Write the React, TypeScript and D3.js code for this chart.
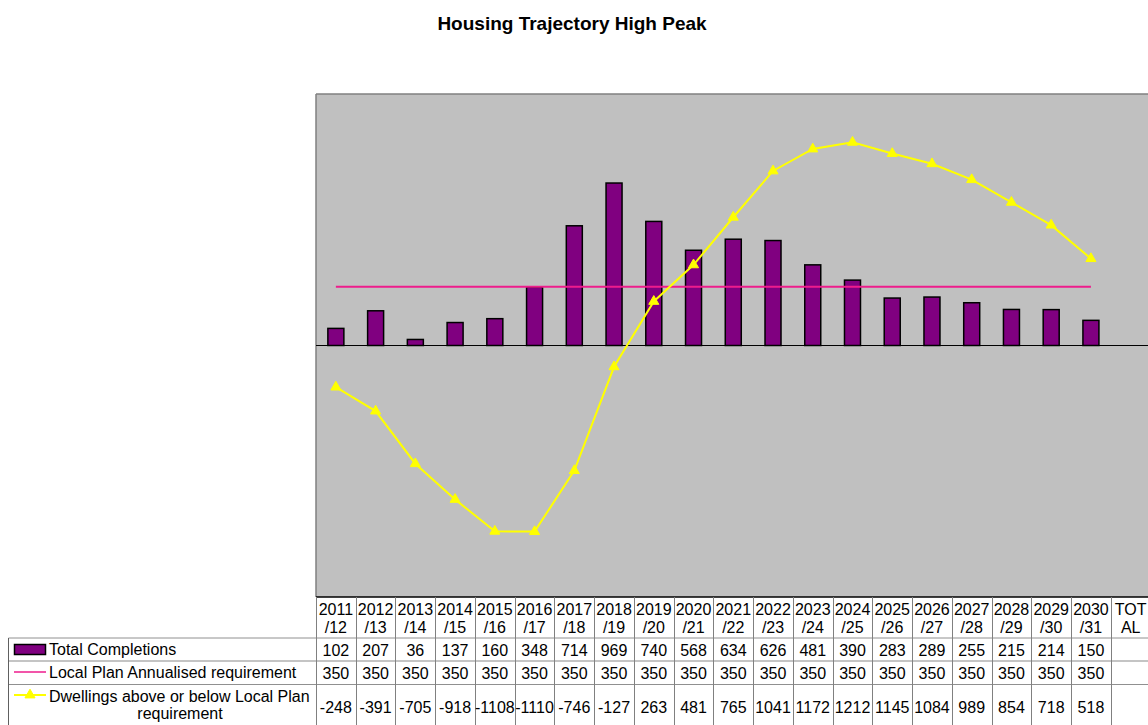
import React from "react";
import * as d3 from "d3";

const categories = [
  "2011/12", "2012/13", "2013/14", "2014/15", "2015/16", "2016/17", "2017/18",
  "2018/19", "2019/20", "2020/21", "2021/22", "2022/23", "2023/24", "2024/25",
  "2025/26", "2026/27", "2027/28", "2028/29", "2029/30", "2030/31", "TOTAL",
];
const headerTop = [
  "2011", "2012", "2013", "2014", "2015", "2016", "2017", "2018", "2019", "2020",
  "2021", "2022", "2023", "2024", "2025", "2026", "2027", "2028", "2029", "2030", "TOT",
];
const headerBottom = [
  "/12", "/13", "/14", "/15", "/16", "/17", "/18", "/19", "/20", "/21",
  "/22", "/23", "/24", "/25", "/26", "/27", "/28", "/29", "/30", "/31", "AL",
];
const completions: (number | null)[] = [
  102, 207, 36, 137, 160, 348, 714, 969, 740, 568, 634, 626, 481, 390, 283, 289, 255, 215, 214, 150, null,
];
const requirement: (number | null)[] = [
  350, 350, 350, 350, 350, 350, 350, 350, 350, 350, 350, 350, 350, 350, 350, 350, 350, 350, 350, 350, null,
];
const dwellings: (number | null)[] = [
  -248, -391, -705, -918, -1108, -1110, -746, -127, 263, 481, 765, 1041, 1172, 1212, 1145, 1084, 989, 854, 718, 518, null,
];
const seriesNames = [
  "Total Completions",
  "Local Plan Annualised requirement",
  "Dwellings above or below Local Plan",
  "requirement",
];
const title = "Housing Trajectory High Peak";
const yDomain = [-1500, 1500];

const FONT = "'Liberation Sans', Arial, Helvetica, sans-serif";

export default function App() {
  const W = 1148;
  const H = 725;
  const plotLeft = 316;
  const plotTop = 94;
  const plotBottom = 597;
  const band = 39.74;
  const x = d3
    .scaleBand<string>()
    .domain(categories)
    .range([plotLeft, plotLeft + band * categories.length])
    .paddingInner(0)
    .paddingOuter(0);
  const y = d3.scaleLinear().domain(yDomain).range([plotBottom, plotTop]);
  const cx = (c: string) => (x(c) as number) + x.bandwidth() / 2;
  const barW = 16;

  const lineGen = d3
    .line<{ c: string; v: number | null }>()
    .defined((d) => d.v !== null)
    .x((d) => cx(d.c))
    .y((d) => y(d.v as number));

  const reqData = categories.map((c, i) => ({ c, v: requirement[i] }));
  const dwData = categories.map((c, i) => ({ c, v: dwellings[i] }));
  const tri = d3.symbol(d3.symbolTriangle, 44)() as string;

  const rowTop = 638;
  const row2Top = 661;
  const row3Top = 684.5;
  const legendLeft = 8.5;

  const fmt = (v: number | null) => (v === null ? "" : String(v));

  return (
    <svg
      width={W}
      height={H}
      style={{ position: "absolute", left: 0, top: 0, background: "#fff" }}
      fontFamily={FONT}
    >
      <rect x={0} y={0} width={W} height={H} fill="#fff" />
      <text x={572} y={30} textAnchor="middle" fontSize={19} fontWeight="bold" fill="#000">
        {title}
      </text>

      {/* plot area */}
      <rect x={plotLeft} y={plotTop} width={W - plotLeft + 10} height={plotBottom - plotTop} fill="#c0c0c0" />
      <line x1={plotLeft} x2={W} y1={plotTop} y2={plotTop} stroke="#808080" strokeWidth={1.5} />
      <line x1={plotLeft} x2={plotLeft} y1={plotTop} y2={plotBottom} stroke="#808080" strokeWidth={1.5} />

      {/* bars */}
      {categories.map((c, i) =>
        completions[i] === null ? null : (
          <rect
            key={c}
            x={cx(c) - barW / 2}
            y={y(completions[i] as number)}
            width={barW}
            height={y(0) - y(completions[i] as number)}
            fill="#800080"
            stroke="#000"
            strokeWidth={1.5}
          />
        )
      )}
      {/* zero line */}
      <line x1={plotLeft} x2={W} y1={y(0)} y2={y(0)} stroke="#000" strokeWidth={1} />

      {/* requirement line */}
      <path d={lineGen(reqData) as string} fill="none" stroke="#ee1c8c" strokeWidth={2} />

      {/* dwellings line */}
      <path d={lineGen(dwData) as string} fill="none" stroke="#ffff00" strokeWidth={2} />
      {dwData.map((d) =>
        d.v === null ? null : (
          <path key={d.c} d={tri} transform={`translate(${cx(d.c)},${y(d.v)})`} fill="#ffff00" stroke="#ffff00" strokeWidth={1} />
        )
      )}

      {/* plot bottom border */}
      <line x1={plotLeft} x2={W} y1={plotBottom} y2={plotBottom} stroke="#000" strokeWidth={1.5} />

      {/* data table grid */}
      <line x1={legendLeft} x2={W} y1={rowTop} y2={rowTop} stroke="#909090" strokeWidth={1} />
      <line x1={legendLeft} x2={W} y1={row2Top} y2={row2Top} stroke="#b0b0b0" strokeWidth={1.5} />
      <line x1={legendLeft} x2={W} y1={row3Top} y2={row3Top} stroke="#909090" strokeWidth={1} />
      <line x1={legendLeft} x2={legendLeft} y1={rowTop} y2={H} stroke="#606060" strokeWidth={1} />
      {categories.map((c) => (
        <line
          key={"v" + c}
          x1={Math.round(x(c) as number) + 0.5}
          x2={Math.round(x(c) as number) + 0.5}
          y1={plotBottom}
          y2={H}
          stroke="#808080"
          strokeWidth={1}
        />
      ))}
      <line
        x1={Math.round(plotLeft + band * categories.length) + 0.5}
        x2={Math.round(plotLeft + band * categories.length) + 0.5}
        y1={plotBottom}
        y2={H}
        stroke="#808080"
        strokeWidth={1}
      />

      {/* header labels */}
      {categories.map((c, i) => (
        <g key={"h" + c}>
          <text x={cx(c)} y={615} textAnchor="middle" fontSize={16} fill="#000">
            {headerTop[i]}
          </text>
          <text x={cx(c)} y={632.5} textAnchor="middle" fontSize={16} fill="#000">
            {headerBottom[i]}
          </text>
          <text x={cx(c)} y={656} textAnchor="middle" fontSize={16} fill="#000">
            {fmt(completions[i])}
          </text>
          <text x={cx(c)} y={679} textAnchor="middle" fontSize={16} fill="#000">
            {fmt(requirement[i])}
          </text>
          <text x={cx(c)} y={712.5} textAnchor="middle" fontSize={16} fill="#000">
            {fmt(dwellings[i])}
          </text>
        </g>
      ))}

      {/* legend keys */}
      <rect x={14.5} y={644.5} width={31} height={10} fill="#800080" stroke="#000" strokeWidth={1.5} />
      <line x1={14} x2={46} y1={672} y2={672} stroke="#ee1c8c" strokeWidth={1.5} />
      <line x1={14} x2={46} y1={695} y2={695} stroke="#ffff00" strokeWidth={2} />
      <path d={tri} transform="translate(30,695)" fill="#ffff00" stroke="#ffff00" />

      <text x={49} y={655} fontSize={16} fill="#000">{seriesNames[0]}</text>
      <text x={49} y={678} fontSize={16} fill="#000">{seriesNames[1]}</text>
      <text x={49} y={702} fontSize={16} fill="#000">{seriesNames[2]}</text>
      <text x={180} y={719} textAnchor="middle" fontSize={16} fill="#000">{seriesNames[3]}</text>
    </svg>
  );
}
